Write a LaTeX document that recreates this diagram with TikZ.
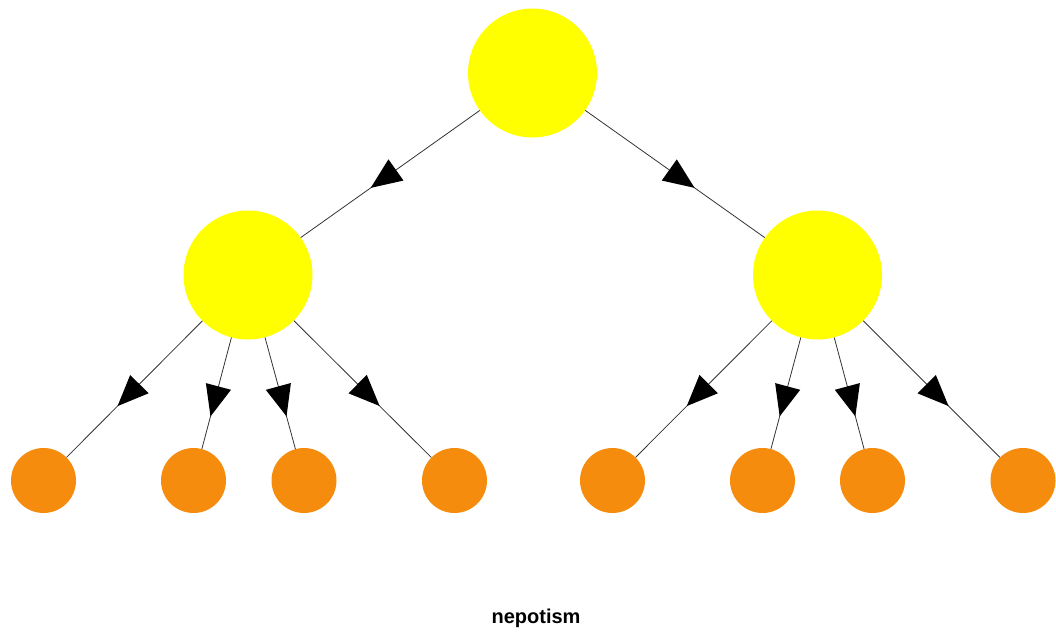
\documentclass[tikz,border=0pt]{standalone}
\usepackage{fontspec}
\setmainfont{Liberation Sans}
\usepackage{tikz}
\usetikzlibrary{decorations.markings}
\definecolor{boss}{rgb}{1,1,0}
\definecolor{kin}{rgb}{0.96,0.55,0.05}

\begin{document}
\begin{tikzpicture}[x=1pt,y=-1pt]
    \def\ty{73}
    \def\my{275}
    \def\by{480.5}

    \tikzstyle{big}=[circle,fill=boss,inner sep=0pt,minimum size=129pt]
    \tikzstyle{small}=[circle,fill=kin,inner sep=0pt,minimum size=65pt]
    \tikzstyle{caption}=[font=\bfseries\fontsize{20}{24}\selectfont,anchor=base]

    \useasboundingbox (0,0) rectangle (1056,632);

    \node[big] (root) at (532.5,\ty) {};

    \node[big] (l) at (248,\my) {};
    \node[big] (r) at (817.5,\my) {};

    \node[small] (l1) at (43.5,\by) {};
    \node[small] (l2) at (193.5,\by) {};
    \node[small] (l3) at (304,\by) {};
    \node[small] (l4) at (454.5,\by) {};

    \node[small] (r1) at (612.5,\by) {};
    \node[small] (r2) at (762.5,\by) {};
    \node[small] (r3) at (872.5,\by) {};
    \node[small] (r4) at (1023,\by) {};

    \node[caption] (cap) at (536,623) {nepotism};

    \tikzstyle{fwd} = [draw=black!80, line width=0.8pt, postaction={decorate},
        decoration={markings, mark=at position 0.5 with
        {\fill[black] (24,0) -- (-7,13) -- (-7,-13) -- cycle;}}]

    \draw [fwd] (root) -- (l);
    \draw [fwd] (root) -- (r);

    \draw [fwd] (l) -- (l1);
    \draw [fwd] (l) -- (l2);
    \draw [fwd] (l) -- (l3);
    \draw [fwd] (l) -- (l4);

    \draw [fwd] (r) -- (r1);
    \draw [fwd] (r) -- (r2);
    \draw [fwd] (r) -- (r3);
    \draw [fwd] (r) -- (r4);

\end{tikzpicture}
\end{document}
